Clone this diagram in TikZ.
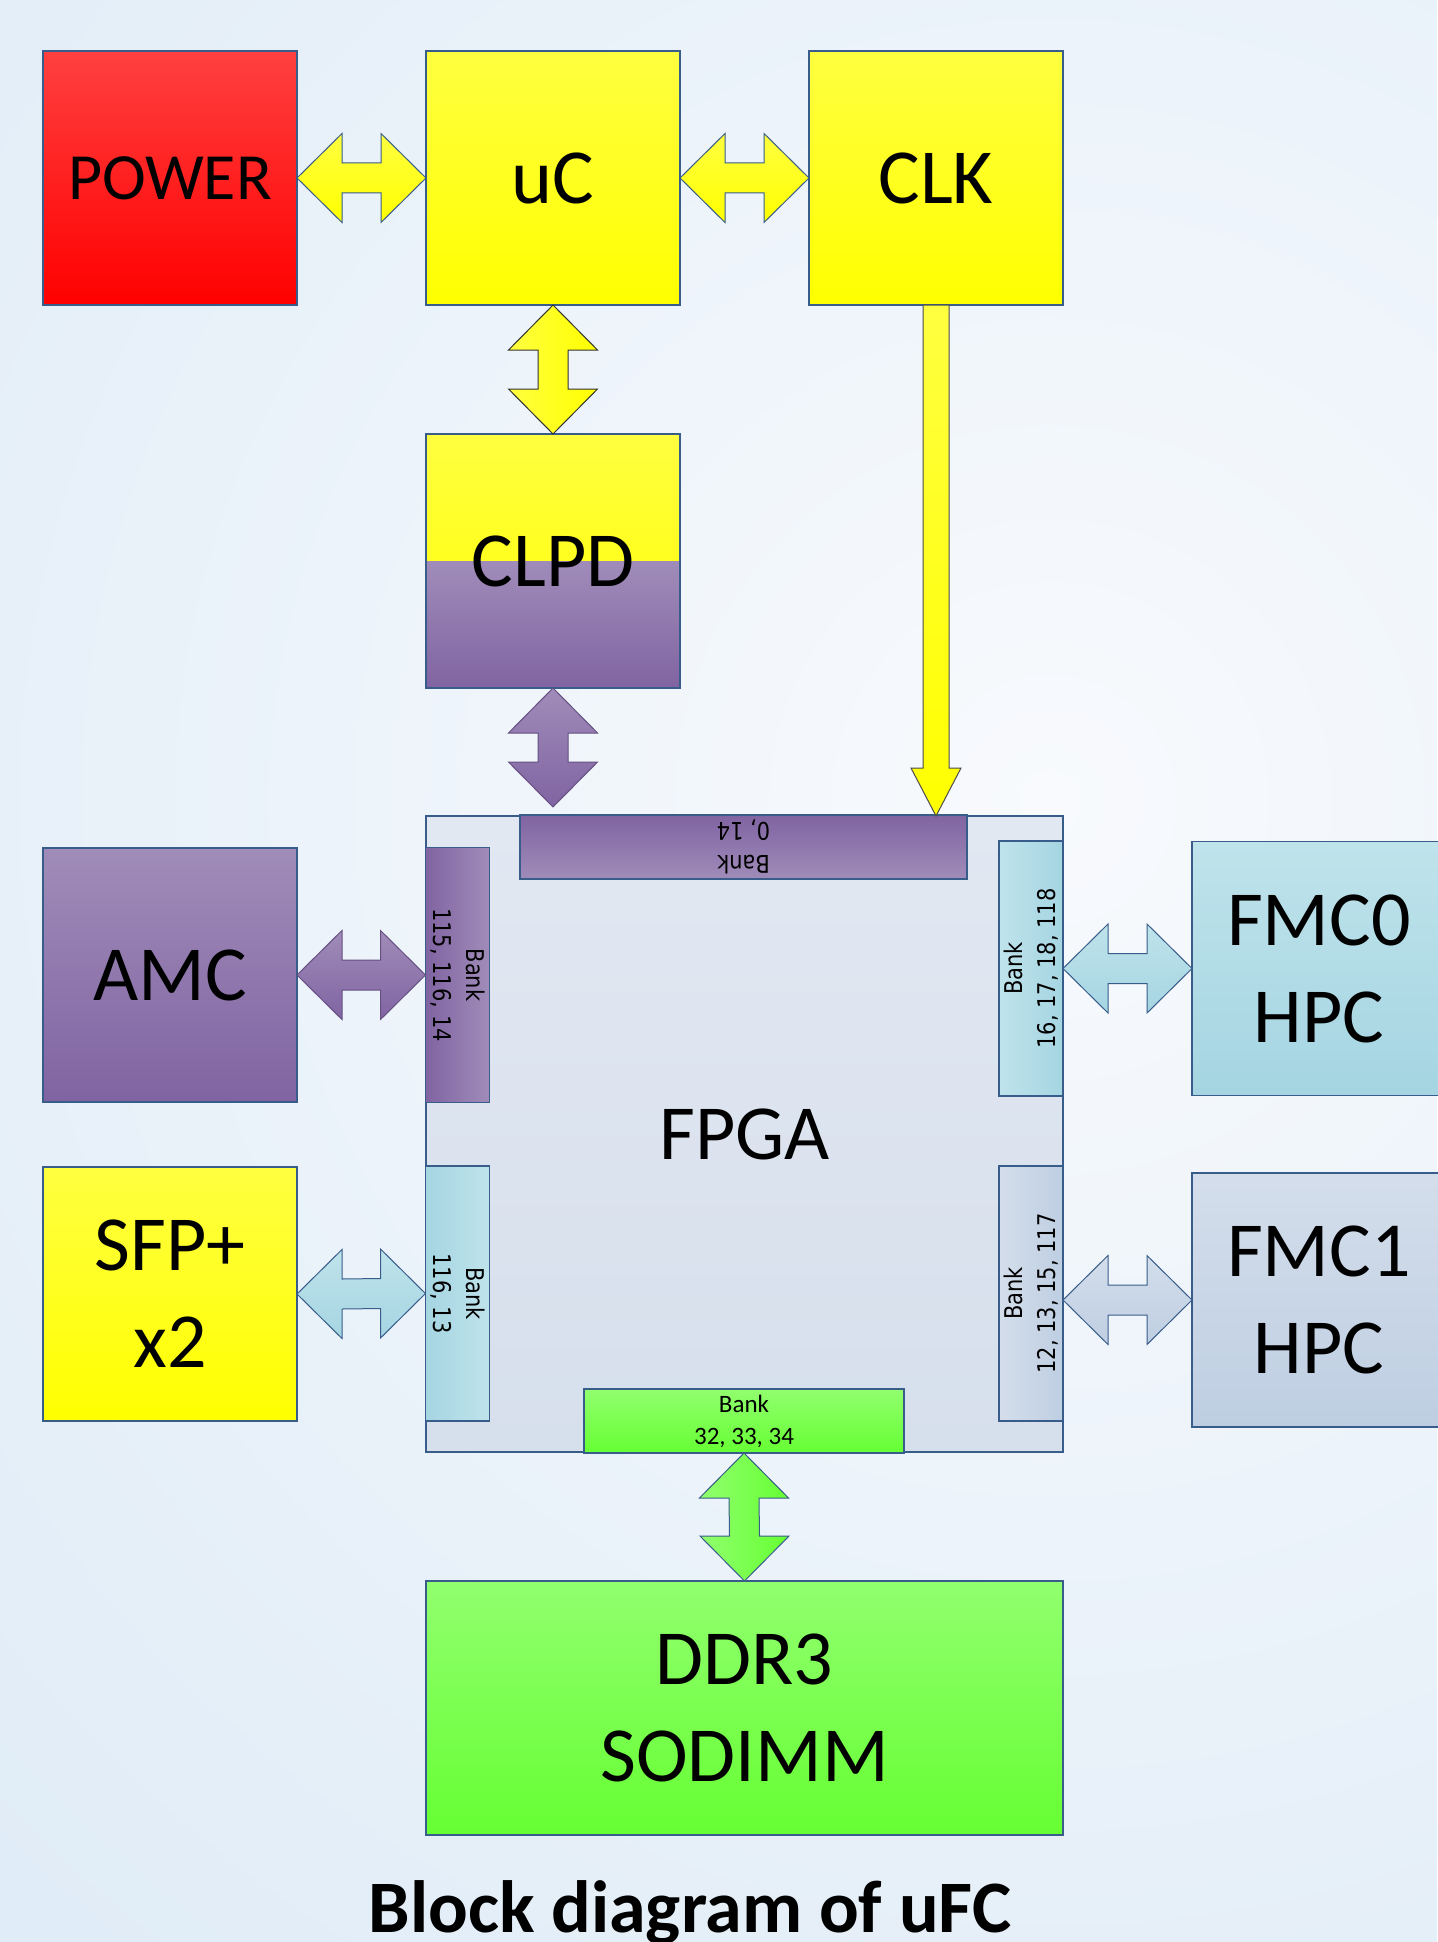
\documentclass[tikz,border=0pt]{standalone}
\usepackage{fontspec}
\setmainfont{Carlito}
\newfontfamily\bankfont[FakeStretch=0.86]{DejaVu Sans}
\usetikzlibrary{calc}

\definecolor{bord}{RGB}{56,93,138}
\definecolor{bgin}{RGB}{248,250,253}
\definecolor{bgout}{RGB}{224,236,247}
\definecolor{yelT}{RGB}{255,255,64}
\definecolor{yelB}{RGB}{255,255,0}
\definecolor{redT}{RGB}{255,64,64}
\definecolor{redB}{RGB}{255,0,0}
\definecolor{purL}{RGB}{160,140,185}
\definecolor{purD}{RGB}{128,100,162}
\definecolor{cyaL}{RGB}{191,227,235}
\definecolor{cyaD}{RGB}{165,213,226}
\definecolor{gryL}{RGB}{212,222,235}
\definecolor{gryD}{RGB}{190,206,226}
\definecolor{grnL}{RGB}{145,255,110}
\definecolor{grnD}{RGB}{102,255,51}
\definecolor{fpgaT}{RGB}{226,232,242}
\definecolor{fpgaB}{RGB}{214,223,236}

\newcommand\hdarrow[3]{\path[#3] (#1) -- ($(#1)+(45,-44.5)$) -- ($(#1)+(45,-15)$) -- ($(#2)+(-45,-15)$) -- ($(#2)+(-45,-44.5)$) -- (#2) -- ($(#2)+(-45,44.5)$) -- ($(#2)+(-45,15)$) -- ($(#1)+(45,15)$) -- ($(#1)+(45,44.5)$) -- cycle;}
\newcommand\vdarrow[3]{\path[#3] (#1) -- ($(#1)+(44.5,45)$) -- ($(#1)+(15,45)$) -- ($(#2)+(15,-45)$) -- ($(#2)+(44.5,-45)$) -- (#2) -- ($(#2)+(-44.5,-45)$) -- ($(#2)+(-15,-45)$) -- ($(#1)+(-15,45)$) -- ($(#1)+(-44.5,45)$) -- cycle;}

\tikzset{
  blk/.style={draw=bord, line width=0.7pt, inner sep=0pt, outer sep=0pt,
    minimum width=127pt, minimum height=127pt, align=center,
    font=\fontsize{39}{48.5}\selectfont},
  yelbox/.style={blk, top color=yelT, bottom color=yelB},
  bankv/.style={draw=bord, line width=0.6pt, inner sep=0pt, outer sep=0pt,
    minimum width=32pt, minimum height=127.5pt},
  bankh/.style={draw=bord, line width=0.6pt, inner sep=0pt, outer sep=0pt,
    minimum height=32pt},
  banktxt/.style={font=\bankfont\fontsize{12.2}{16.5}\selectfont, align=center, inner sep=0pt},
  arr/.style={draw=bord, line width=0.5pt},
}

\begin{document}
\begin{tikzpicture}[x=0.5pt,y=-0.5pt]
\useasboundingbox (0,0) rectangle (1437,1942);
\begin{scope}
  \clip (0,0) rectangle (1437,1942);
  \fill[bgout] (0,0) rectangle (1437,1942);
  \shade[inner color=bgin, outer color=bgout] (1050,800) circle (1500);
\end{scope}

% main blocks
\node[blk, top color=redT, bottom color=redB, font=\fontsize{33}{40}\selectfont] (pw) at (170,178) {POWER};
\node[yelbox] (uc) at (553,178) {uC};
\node[yelbox] (clk) at (936,178) {CLK};
\node[blk, path picture={
    \shade[top color=yelT, bottom color=yelB] (path picture bounding box.north west) rectangle (path picture bounding box.east);
    \shade[top color=purL, bottom color=purD] (path picture bounding box.west) rectangle (path picture bounding box.south east);
  }] (clpd) at (553,561) {CLPD};
\node[blk, top color=fpgaT, bottom color=fpgaB, minimum width=318.5pt, minimum height=318pt] (fpga) at (744.5,1134) {FPGA};
\node[blk, top color=purL, bottom color=purD] (amc) at (170,975) {AMC};
\node[yelbox] (sfp) at (170,1294) {SFP+\\x2};
\node[blk, top color=cyaL, bottom color=cyaD] (fmc0) at (1319,968.5) {FMC0\\HPC};
\node[blk, top color=gryL, bottom color=gryD] (fmc1) at (1319,1300) {FMC1\\HPC};
\node[blk, top color=grnL, bottom color=grnD, minimum width=318.5pt] (ddr) at (744.5,1708) {DDR3\\SODIMM};

% FPGA banks
\node[bankh, top color=purD, bottom color=purL, minimum width=223.5pt] (btop) at (743.5,847) {};
\node[banktxt, rotate=180] at (btop.center) {Bank\\0, 14};
\node[bankv, left color=purD, right color=purL] (bamc) at (457.5,975) {};
\node[banktxt, rotate=-90] at (bamc.center) {Bank\\115, 116, 14};
\node[bankv, left color=cyaD, right color=cyaL] (bsfp) at (457.5,1293.5) {};
\node[banktxt, rotate=-90] at (bsfp.center) {Bank\\116, 13};
\node[bankv, left color=cyaL, right color=cyaD] (bfmc0) at (1031,968.5) {};
\node[banktxt, rotate=90] at (bfmc0.center) {Bank\\16, 17, 18, 118};
\node[bankv, left color=gryL, right color=gryD] (bfmc1) at (1031,1293.5) {};
\node[banktxt, rotate=90] at (bfmc1.center) {Bank\\12, 13, 15, 117};
\node[bankh, top color=grnL, bottom color=grnD, minimum width=160pt, align=center,
  font=\fontsize{12.5}{16}\selectfont] (bddr) at (744,1421) {Bank\\32, 33, 34};

% connectors
\hdarrow{pw.east}{uc.west}{arr, top color=yelT, bottom color=yelB}
\hdarrow{uc.east}{clk.west}{arr, top color=yelT, bottom color=yelB}
\vdarrow{uc.south}{clpd.north}{draw=black!80, line width=0.5pt, left color=yelT, right color=yelB}
\coordinate (ptip) at ($(clpd.south |- fpga.north)+(0,-9)$);
\vdarrow{clpd.south}{ptip}{draw=purD!80!black, line width=0.5pt, top color=purL, bottom color=purD}
\hdarrow{amc.east}{bamc.west}{draw=purD!80!black, line width=0.5pt, top color=purL, bottom color=purD}
\hdarrow{sfp.east}{bsfp.west}{arr, top color=cyaL, bottom color=cyaD}
\hdarrow{bfmc0.east}{fmc0.west}{arr, top color=cyaL, bottom color=cyaD}
\coordinate (f1a) at (bfmc1.east |- fmc1.west);
\hdarrow{f1a}{fmc1.west}{arr, top color=gryL, bottom color=gryD}
\vdarrow{bddr.south}{ddr.north}{arr, left color=grnL, right color=grnD}
\coordinate (ck) at (clk.south |- fpga.north);
\path[draw=black!70, line width=0.5pt, top color=yelT, bottom color=yelB]
  ($(clk.south)+(-13,0)$) -- ($(ck)+(-13,-48)$) -- ($(ck)+(-25,-48)$) -- (ck)
  -- ($(ck)+(25,-48)$) -- ($(ck)+(13,-48)$) -- ($(clk.south)+(13,0)$) -- cycle;

% title
\node[anchor=base, inner sep=0pt, font=\bfseries\fontsize{37}{44}\selectfont] (title) at (690,1932) {Block diagram of uFC};
\end{tikzpicture}
\end{document}
